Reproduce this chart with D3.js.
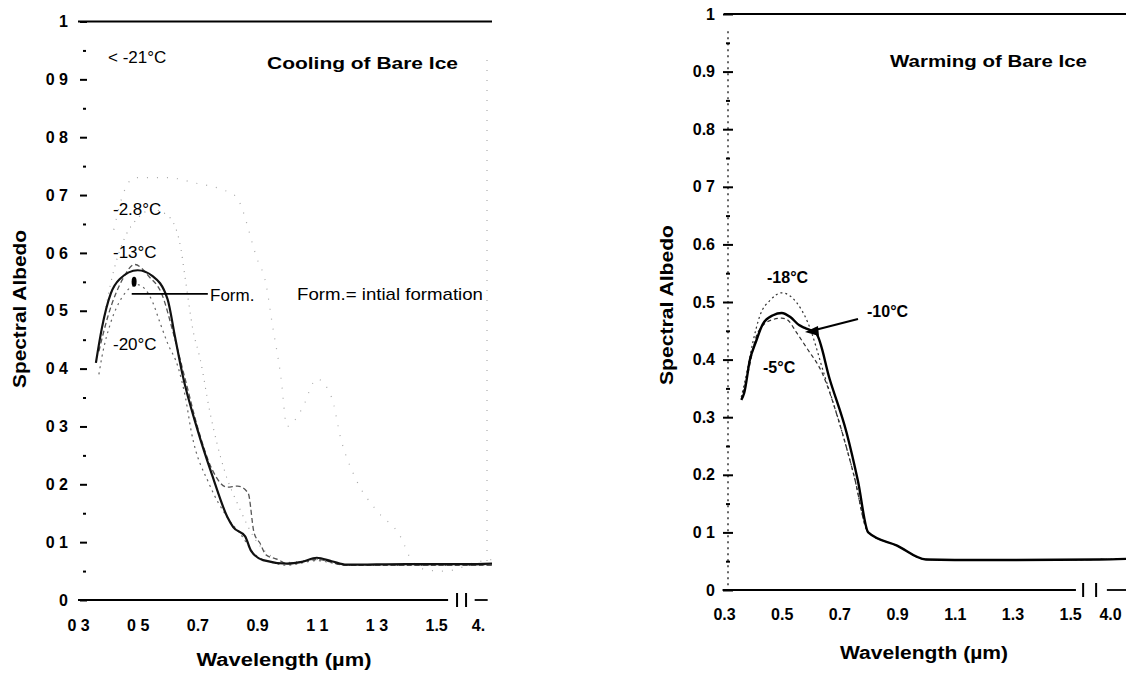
<!doctype html>
<html>
<head>
    <style>
        body { margin: 0; background: #fff; }
        svg text { font-family: "Liberation Sans", Arial, sans-serif; fill: #000; }
        .tick text { font-size: 16px; font-weight: bold; }
        .ttl { font-size: 17px; font-weight: bold; }
        .axt { font-size: 18px; font-weight: bold; }
        .ann { font-size: 17px; }
        .annb { font-size: 16px; font-weight: bold; }
</style>
    <script src="https://d3js.org/d3.v7.min.js"></script>
</head>
<body>
<svg width="1126" height="674"></svg>
<script>

    // ---- left panel: cooling of bare ice ----
    var coolYTicks = [0, 0.1, 0.2, 0.3, 0.4, 0.5, 0.6, 0.7, 0.8, 0.9, 1];
    var coolYLabels = ["0", "0 1", "0 2", "0 3", "0 4", "0 5", "0 6", "0 7", "0 8", "0 9", "1"];
    var coolXTicks = [0.3, 0.5, 0.7, 0.9, 1.1, 1.3, 1.5, 4.0];
    var coolXLabels = ["0 3", "0 5", "0.7", "0.9", "1 1", "1 3", "1.5", "4."];

    // [wavelength, albedo]
    var coolForm = [[0.36,0.41],[0.38,0.47],[0.41,0.53],[0.44,0.555],[0.5,0.57],[0.55,0.56],[0.6,0.52],
        [0.625,0.455],[0.65,0.39],[0.7,0.295],[0.75,0.215],[0.8,0.144],[0.82,0.126],[0.86,0.11],
        [0.88,0.085],[0.92,0.069],[1.0,0.063],[1.05,0.066],[1.1,0.073],[1.15,0.067],[1.2,0.061],
        [1.4,0.062],[1.6,0.062],[4.0,0.063]];
    var cool13 = [[0.37,0.43],[0.4,0.49],[0.45,0.555],[0.49,0.58],[0.54,0.558],[0.58,0.53],[0.62,0.46],
        [0.66,0.38],[0.7,0.3],[0.75,0.225],[0.8,0.195],[0.835,0.197],[0.87,0.185],[0.89,0.116],
        [0.91,0.098],[0.93,0.078],[0.97,0.07],[1.0,0.063],[1.1,0.07],[1.2,0.06],[1.6,0.06],[4.0,0.06]];
    var cool20 = [[0.37,0.39],[0.38,0.42],[0.41,0.48],[0.45,0.525],[0.5,0.545],[0.55,0.515],[0.575,0.479],
        [0.6,0.444],[0.635,0.403],[0.66,0.35],[0.68,0.29],[0.74,0.2],[0.8,0.143],[0.85,0.11],[0.89,0.08],
        [0.95,0.065],[1.0,0.06],[1.1,0.068],[1.2,0.06],[1.6,0.06],[4.0,0.06]];
    var cool28 = [[0.38,0.47],[0.42,0.57],[0.46,0.63],[0.5,0.66],[0.55,0.675],[0.6,0.665],[0.64,0.62],
        [0.66,0.553],[0.685,0.467],[0.71,0.415],[0.74,0.33],[0.79,0.225],[0.84,0.16],[0.9,0.1],
        [0.95,0.075],[1.0,0.065],[1.1,0.07],[1.2,0.06],[1.6,0.06],[4.0,0.06]];
    var cool21 = [[0.42,0.64],[0.45,0.7],[0.49,0.73],[0.6,0.73],[0.7,0.72],[0.78,0.71],[0.83,0.697],
        [0.9,0.59],[0.93,0.546],[0.95,0.48],[0.98,0.385],[1.0,0.3],[1.05,0.33],[1.1,0.382],[1.15,0.35],
        [1.18,0.28],[1.23,0.21],[1.3,0.155],[1.38,0.11],[1.42,0.067],[1.47,0.052],[1.52,0.05],
        [1.57,0.053],[1.6,0.06],[4.0,0.07]];

    // ---- right panel: warming of bare ice ----
    var warmYTicks = [0, 0.1, 0.2, 0.3, 0.4, 0.5, 0.6, 0.7, 0.8, 0.9, 1];
    var warmYLabels = ["0", "0 1", "0.2", "0.3", "0.4", "0.5", "0.6", "0 7", "0.8", "0.9", "1"];
    var warmXTicks = [0.3, 0.5, 0.7, 0.9, 1.1, 1.3, 1.5, 4.0];
    var warmXLabels = ["0.3", "0.5", "0.7", "0.9", "1.1", "1.3", "1.5", "4.0"];

    var warm10 = [[0.36,0.33],[0.37,0.342],[0.39,0.4],[0.41,0.43],[0.435,0.462],[0.47,0.477],[0.5,0.481],
        [0.53,0.474],[0.56,0.46],[0.58,0.455],[0.62,0.445],[0.667,0.365],[0.725,0.273],[0.764,0.19],
        [0.8,0.1],[0.9,0.077],[1.0,0.053],[1.2,0.052],[1.6,0.053],[4.0,0.054]];
    var warm18 = [[0.36,0.335],[0.38,0.38],[0.4,0.43],[0.425,0.477],[0.46,0.503],[0.5,0.516],[0.55,0.5],
        [0.59,0.465],[0.65,0.37],[0.7,0.29],[0.75,0.2],[0.8,0.1],[0.9,0.077],[1.0,0.053],[1.2,0.052],
        [1.6,0.053],[4.0,0.054]];
    var warm5 = [[0.36,0.33],[0.38,0.37],[0.418,0.448],[0.466,0.469],[0.5,0.472],[0.52,0.469],[0.55,0.448],
        [0.587,0.42],[0.64,0.377],[0.7,0.29],[0.75,0.2],[0.8,0.1],[0.9,0.077],[1.0,0.053],[1.2,0.052],
        [1.6,0.053],[4.0,0.054]];

    var svg = d3.select("svg");

    // broken x axis: 0.3-1.6 linear, then squeezed up to 4.0
    var xL = d3.scaleLinear().domain([0.3, 1.6, 4.0]).range([78, 466, 492]),
        yL = d3.scaleLinear().domain([0, 1]).range([600, 21.5]);
    var xR = d3.scaleLinear().domain([0.3, 1.6, 4.0]).range([724, 1099, 1126]),
        yR = d3.scaleLinear().domain([0, 1]).range([590, 14]);

    var minorTicks = d3.range(0.05, 1, 0.1);

    function drawCurve(g, data, x, y, stroke, width, dash, curve) {
        var line = d3.line()
            .x(function(d) { return x(d[0]); })
            .y(function(d) { return y(d[1]); })
            .curve(curve || d3.curveMonotoneX);
        g.append("path")
         .datum(data)
         .attr("fill", "none")
         .attr("stroke", stroke)
         .attr("stroke-width", width)
         .attr("stroke-dasharray", dash)
         .attr("stroke-linejoin", "round")
         .attr("d", line);
    }

    function hline(g, x, y, a, b, v, w) {
        g.append("line")
         .attr("x1", x(a)).attr("x2", x(b))
         .attr("y1", y(v)).attr("y2", y(v))
         .attr("stroke", "#000")
         .attr("stroke-width", w);
    }

    function breakMarks(g, x, yPix, a, b) {
        [a, b].forEach(function(v) {
            g.append("line")
             .attr("x1", x(v)).attr("x2", x(v))
             .attr("y1", yPix - 7).attr("y2", yPix + 7)
             .attr("stroke", "#000").attr("stroke-width", 2);
        });
    }

    // ================= LEFT =================
    var gl = svg.append("g");

    var yAxL = gl.append("g")
        .attr("transform", "translate(87,0)")
        .call(d3.axisLeft(yL).tickValues(coolYTicks)
            .tickFormat(function(d, i) { return coolYLabels[i]; })
            .tickSize(7).tickPadding(12));
    yAxL.select(".domain").remove();
    yAxL.selectAll(".tick line").attr("stroke-width", 2);

    var yMinL = gl.append("g")
        .attr("transform", "translate(86,0)")
        .call(d3.axisLeft(yL).tickValues(minorTicks).tickFormat("").tickSize(3));
    yMinL.select(".domain").remove();
    yMinL.selectAll(".tick line").attr("stroke-width", 2);

    var xAxL = gl.append("g")
        .attr("transform", "translate(0,600)")
        .call(d3.axisBottom(xL).tickValues(coolXTicks)
            .tickFormat(function(d, i) { return coolXLabels[i]; })
            .tickSize(0).tickPadding(20));
    xAxL.select(".domain").remove();
    xAxL.selectAll(".tick text").filter(function(d) { return d === 4.0; }).attr("dx", -14);

    hline(gl, xL, yL, 0.3, 4.0, 1, 1.8);
    hline(gl, xL, yL, 0.3, 1.54, 0, 1.8);
    hline(gl, xL, yL, 2.4, 3.6, 0, 1.8);
    breakMarks(gl, xL, yL(0), 1.57, 1.605);

    // faint dotted frame on the right
    gl.append("line")
      .attr("x1", 487).attr("x2", 487).attr("y1", 60).attr("y2", 570)
      .attr("stroke", "#999").attr("stroke-width", 1).attr("stroke-dasharray", "1,9");

    drawCurve(gl, cool21, xL, yL, "#aaa", 1.2, "1,9");
    drawCurve(gl, cool28, xL, yL, "#999", 1.1, "1,6");
    drawCurve(gl, cool20, xL, yL, "#666", 1.2, "2,4");
    drawCurve(gl, cool13, xL, yL, "#555", 1.3, "5,3");
    drawCurve(gl, coolForm, xL, yL, "#111", 2.2, null);

    // "Form." pointer
    hline(gl, xL, yL, 0.48, 0.735, 0.529, 1.8);
    gl.append("ellipse")
      .attr("cx", xL(0.488)).attr("cy", yL(0.55))
      .attr("rx", 2.5).attr("ry", 5).attr("fill", "#000");

    gl.append("text").attr("class", "ttl").attr("x", 267).attr("y", 69)
      .attr("textLength", 191).attr("lengthAdjust", "spacingAndGlyphs").text("Cooling of Bare Ice");
    gl.append("text").attr("class", "ann").attr("x", 108).attr("y", 63).text("< -21°C");
    gl.append("text").attr("class", "ann").attr("x", 113).attr("y", 215).text("-2.8°C");
    gl.append("text").attr("class", "ann").attr("x", 113).attr("y", 258).text("-13°C");
    gl.append("text").attr("class", "ann").attr("x", 113).attr("y", 350).text("-20°C");
    gl.append("text").attr("class", "ann").attr("x", 210).attr("y", 301).text("Form.");
    gl.append("text").attr("class", "ann").attr("x", 297).attr("y", 300)
      .attr("textLength", 186).attr("lengthAdjust", "spacingAndGlyphs").text("Form.= intial formation");

    gl.append("text").attr("class", "axt")
      .attr("transform", "translate(26,309) rotate(-90)")
      .attr("text-anchor", "middle")
      .attr("textLength", 158).attr("lengthAdjust", "spacingAndGlyphs")
      .text("Spectral Albedo");
    gl.append("text").attr("class", "axt")
      .attr("x", 284).attr("y", 666)
      .attr("text-anchor", "middle")
      .attr("textLength", 175).attr("lengthAdjust", "spacingAndGlyphs")
      .text("Wavelength (µm)");

    // ================= RIGHT =================
    var gr = svg.append("g");

    gr.append("line")
      .attr("x1", 728).attr("x2", 728).attr("y1", yR(0.97)).attr("y2", yR(0))
      .attr("stroke", "#000").attr("stroke-width", 1.2).attr("stroke-dasharray", "2,4");

    var yAxR = gr.append("g")
        .attr("transform", "translate(733,0)")
        .call(d3.axisLeft(yR).tickValues(warmYTicks)
            .tickFormat(function(d, i) { return warmYLabels[i]; })
            .tickSize(10).tickPadding(8));
    yAxR.select(".domain").remove();
    yAxR.selectAll(".tick line").attr("stroke-width", 2);

    var yMinR = gr.append("g")
        .attr("transform", "translate(730,0)")
        .call(d3.axisLeft(yR).tickValues(minorTicks).tickFormat("").tickSize(4));
    yMinR.select(".domain").remove();
    yMinR.selectAll(".tick line").attr("stroke-width", 2);

    var xAxR = gr.append("g")
        .attr("transform", "translate(0,590)")
        .call(d3.axisBottom(xR).tickValues(warmXTicks)
            .tickFormat(function(d, i) { return warmXLabels[i]; })
            .tickSize(0).tickPadding(19));
    xAxR.select(".domain").remove();
    xAxR.selectAll(".tick text").filter(function(d) { return d === 4.0; }).attr("dx", -16);

    hline(gr, xR, yR, 0.3, 4.0, 1, 1.8);
    hline(gr, xR, yR, 0.295, 1.52, 0, 1.8);
    hline(gr, xR, yR, 2.3, 4.0, 0, 1.8);
    breakMarks(gr, xR, yR(0), 1.545, 1.59);

    drawCurve(gr, warm18, xR, yR, "#333", 1.2, "2,3");
    drawCurve(gr, warm5, xR, yR, "#333", 1.2, "4,3");
    drawCurve(gr, warm10, xR, yR, "#000", 2.4, null);

    // arrow to the -10 curve
    gr.append("line")
      .attr("x1", 858).attr("y1", 319).attr("x2", 815).attr("y2", 330)
      .attr("stroke", "#000").attr("stroke-width", 2);
    gr.append("path")
      .attr("d", "M805,332 L818,326 L819,336 Z")
      .attr("fill", "#000");

    gr.append("text").attr("class", "ttl").attr("x", 890).attr("y", 67)
      .attr("textLength", 197).attr("lengthAdjust", "spacingAndGlyphs").text("Warming of Bare Ice");
    gr.append("text").attr("class", "annb").attr("x", 767).attr("y", 283).text("-18°C");
    gr.append("text").attr("class", "annb").attr("x", 867).attr("y", 317).text("-10°C");
    gr.append("text").attr("class", "annb").attr("x", 763).attr("y", 373).text("-5°C");

    gr.append("text").attr("class", "axt")
      .attr("transform", "translate(673,305) rotate(-90)")
      .attr("text-anchor", "middle")
      .attr("textLength", 160).attr("lengthAdjust", "spacingAndGlyphs")
      .text("Spectral Albedo");
    gr.append("text").attr("class", "axt")
      .attr("x", 924).attr("y", 659)
      .attr("text-anchor", "middle")
      .attr("textLength", 168).attr("lengthAdjust", "spacingAndGlyphs")
      .text("Wavelength (µm)");

</script>
</body>
</html>
